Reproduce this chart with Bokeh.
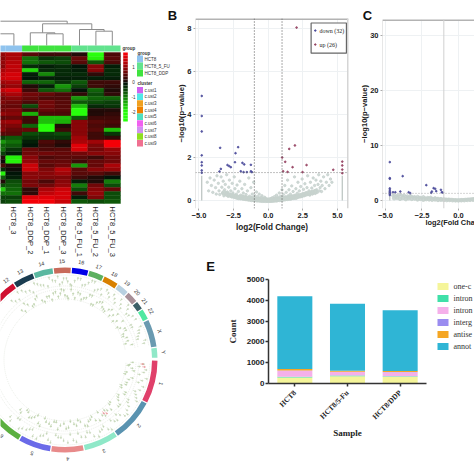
import numpy as np
from bokeh.plotting import figure
from bokeh.models import Range1d, Span, FactorRange, FixedTicker
from bokeh.core.properties import value
from bokeh.embed import file_html
from bokeh.resources import INLINE

SANS = "Liberation Sans"
SERIF = "Liberation Serif"

# ---------- heatmap ----------
heat_rows = [
 [1.0,1.2,.5,.3,.3,.1,-2,.4],[.9,1.2,-.9,-.4,-.5,.6,-1.9,.5],[1,1.3,-.9,-.7,-.6,.5,-.7,.4],
 [.9,1.4,-.3,-.2,-.3,-.1,.9,-.2],[1.2,1.4,-1.7,-.3,-.3,-.2,.9,-.3],[1.4,1.6,-.2,-1.1,-.3,-.3,.2,-.3],
 [1.5,1.6,-.1,-.2,-.2,-.2,-.2,-.2],[1.1,1.2,-.8,-.8,-.4,-.7,.3,.3],[.8,1,.1,-.2,-1.2,-.5,.3,.2],
 [1.4,1.6,.3,-.7,-.9,-.1,-.8,.1],[1,1.2,.7,.6,.4,.2,-.6,.2],[.7,.9,.6,.4,.4,-1.2,-.8,-.8],
 [.8,.7,.4,.7,.5,-.7,-.6,-.5],[.6,.6,-.6,.7,.5,-1.5,-.3,-.4],[.7,.8,.3,.6,.5,-2,.1,.1],
 [1,.9,-1.4,.4,.4,-2,.1,.2],[.5,.6,.3,-1.5,-1.5,-.7,.3,.3],[1,1.1,.3,-1.5,-1.4,.9,.5,.4],
 [.8,.8,-.8,-2,.1,.9,.4,.3],[.9,.6,.6,-2,.3,.9,.5,-1.5],[.5,.5,-.6,-.5,-.6,.9,.3,-.4],
 [-.5,-.7,-.4,-.4,-.4,1.1,.3,.2],[-1.2,-.9,-.2,.4,.2,1.2,1.1,1.9],[-.8,-.7,-.1,.3,.1,1.7,.8,1.9],
 [-.9,-.4,.6,.4,.5,1.6,.7,1.0],[-.5,-.2,.7,.7,.6,.7,.9,.9],[.1,-1.9,.9,.4,.5,.5,.3,.7],
 [0,-1.9,1,.6,.6,.3,.6,.7],[.4,.1,1.5,.5,.7,-1.2,.6,1.2],[-.3,0,1.5,.8,1.3,.5,.9,1.0],
 [-1.9,-.1,.9,.9,1.1,.5,.5,.3],[-.7,-.2,.9,.8,.8,.3,.1,-.1],[.1,-.6,.7,.4,.9,-.2,.1,-1],
 [-.6,-.7,.8,.7,1,-1,.7,-.6],[-1.6,-.8,.2,1.2,1.5,-.6,.9,.6],[-.9,-.9,.2,1.4,1.6,.3,1,-.6],
 [-.5,-.5,1.7,1.7,1.6,-.2,.8,-.6],[-.5,-.6,1.9,1.9,1.5,-.7,-.6,-.7],
]
sample_labels = ["HCT8_3","HCT8_DDP_2","HCT8_DDP_1","HCT8_DDP_3","HCT8_5_FU_1","HCT8_5_FU_2","HCT8_5_FU_3"]
group_colors = ["#8fc3ee","#8fc3ee","#3fe33f","#3fe33f","#3fe33f","#62e38e","#62e38e","#62e38e"]
group_names = ["HCT8","HCT8_5_FU","HCT8_DDP"]
group_swatches = ["#8fc3ee","#62e38e","#3fe33f"]
cluster_names = ["c.ust1","c.ust2","c.ust3","c.ust4","c.ust5","c.ust6","c.ust7","c.ust8","c.ust9"]
cluster_colors = ["#d060f0","#50e8e8","#f0a020","#f08000","#50e0c0","#f060f0","#d090f0","#90e020","#f07090"]
dend_left  = [3.5,2.5,6.5,5.5,3.25,-1.0,-0.5,-1.5]
dend_right = [4.5,4.0,7.5,7.0,6.25,4.75,1.5,0.5]
dend_h     = [11.7,12.7,14.3,16.0,21.7,24.3,11.7,12.7]
dend_hl    = [0,0,0,0,12.7,12.0,0,0]
dend_hr    = [0,11.7,0,14.3,16.0,21.7,0,0]

# ---------- volcano B ----------
b_ticks_x = [-5.0,-2.5,0.0,2.5,5.0]
b_ticks_y = [0,2,4,6,8]
b_down_x = [-4.8,-4.8,-4.8,-4.8,-4.8,-4.8,-4.8,-4.8,-3.47,-2.17,-2.36,-2.4,-2.94,-2.82,-2.7,-3.42,-3.52,-1.86,-1.73,-1.25,-1.98,-1.78,-1.54,-1.25,-1.18]
b_down_y = [4.86,3.93,3.21,2.1,1.78,1.63,1.4,1.29,2.45,2.48,2.2,1.78,1.65,1.6,1.55,1.47,1.35,1.75,1.68,1.66,1.36,1.32,1.32,1.36,1.32]
b_up_x = [2.05,1.93,1.52,1.01,1.23,1.76,2.77,1.08,1.4,2.48,4.7,5.35,5.35,5.35,5.35]
b_up_y = [8.04,2.56,2.4,2.0,1.8,1.55,1.65,1.36,1.33,1.32,1.43,1.81,1.63,1.44,1.27]
b_cloud_x = [-4.4,-4.3,-4.2,-4.1,-4.0,-3.9,-3.8,-3.75,-3.7,-3.6,-3.55,-3.5,-3.4,-3.35,-3.3,-3.25,-3.2,-3.15,-3.1,-3.05,-3.0,-2.95,-2.9,-2.85,-2.8,-2.75,-2.7,-2.65,-2.6,-2.55,-2.5,-2.45,-2.4,-2.35,-2.3,-2.25,-2.2,-2.15,-2.1,-2.05,-2.0,-1.95,-1.9,-1.85,-1.8,-1.75,-1.7,-1.65,-1.6,-1.55,-1.5,-1.45,-1.4,-1.35,-1.3,-1.25,-1.2,-1.15,-1.1,-1.05,-1.0,-.95,-.9,-.85,-.8,-.75,-.7,-.65,-.6,-.55,-.5,-.45,-.4,-.35,-.3,-.25,-.2,-.15,-.1,-.05,0,.05,.1,.15,.2,.25,.3,.35,.4,.45,.5,.55,.6,.65,.7,.75,.8,.85,.9,.95,1.0,1.05,1.1,1.15,1.2,1.25,1.3,1.35,1.4,1.45,1.5,1.55,1.6,1.65,1.7,1.75,1.8,1.85,1.9,1.95,2.0,2.05,2.1,2.15,2.2,2.25,2.3,2.35,2.4,2.45,2.5,2.55,2.6,2.65,2.7,2.75,2.8,2.85,2.9,2.95,3.0,3.05,3.1,3.15,3.2,3.25,3.3,3.35,3.4,3.45,3.5,3.55,3.6,3.65,3.7,3.75,3.8,3.85,3.9,4.0,4.1,4.2,4.3,4.4,4.5,4.6]
b_cloud_y = [.85,.45,1.05,.7,.38,.95,.6,.3,1.15,.8,.45,.28,1.1,.62,.35,.9,.22,.5,.75,.3,1.2,.4,.2,.62,.95,.28,.45,.18,.8,.35,.22,1.1,.55,.15,.3,.72,.18,.42,.12,.9,.25,.1,.55,.2,.35,.1,.75,.15,.28,.08,.45,.12,1.05,.2,.07,.6,.15,.3,.06,.85,.12,.22,.05,.4,.1,.18,.04,.3,.08,.14,.03,.22,.06,.1,.02,.15,.04,.07,.01,.03,0,.02,.05,.01,.09,.03,.13,.02,.07,.18,.04,.11,.25,.05,.16,.08,.35,.1,.2,.06,.5,.13,.28,.08,.7,.17,.38,.1,.95,.22,.5,.12,.3,.15,.68,.2,.42,.14,1.1,.25,.55,.17,.34,.85,.2,.45,.24,.65,.19,1.0,.3,.52,.23,.78,.35,.27,.6,1.15,.3,.45,.25,.85,.38,.58,.3,1.05,.42,.7,.33,.95,.5,.38,.75,1.2,.45,.6,.9,.42,.7,1.1,.55,.85,1.2,.7,1.0,.85]
b_band_x = [-3.2,-3.0,-2.8,-2.6,-2.45,-2.3,-2.15,-2.0,-1.9,-1.8,-1.7,-1.6,-1.5,-1.4,-1.3,-1.2,-1.1,-1.0,-.9,-.8,-.7,-.6,-.5,-.4,-.3,-.2,-.1,0,.1,.2,.3,.4,.5,.6,.7,.8,.9,1.0,1.1,1.2,1.3,1.4,1.5,1.6,1.7,1.8,1.9,2.0,2.15,2.3,2.45,2.6,2.8,3.0,3.2,3.4]
b_band_y = [.36,.3,.26,.22,.2,.17,.14,.13,.16,.11,.13,.09,.1,.07,.09,.05,.07,.04,.06,.03,.05,.02,.03,.01,.03,.01,.02,.01,.02,.01,.03,.02,.04,.03,.05,.05,.07,.06,.09,.08,.11,.1,.13,.11,.16,.14,.18,.15,.2,.22,.25,.28,.32,.34,.38,.42]

# ---------- volcano C ----------
c_ticks_x = [-5.0,-2.5,0.0]
c_ticks_y = [0,10,20,30]
c_down_x = [-4.7,-4.7,-4.7,-3.82,-2.2,-4.7,-4.7,-4.7,-4.7,-4.7,-4.7,-4.48,-4.32,-3.98,-3.41,-3.3,-1.82,-1.7,-1.59,-1.52,-1.86,-1.2,-1.14,-1.07]
c_down_y = [7.0,4.08,3.96,4.44,2.8,2.2,1.9,1.6,1.4,1.2,1.0,1.5,1.5,1.64,1.5,1.34,1.64,2.25,2.13,1.7,1.4,1.95,1.5,1.45]
c_cloud_x = [-4.5,-4.4,-4.3,-4.2,-4.1,-4.0,-3.9,-3.8,-3.7,-3.6,-3.5,-3.4,-3.3,-3.2,-3.1,-3.0,-2.9,-2.8,-2.7,-2.6,-2.5,-2.4,-2.3,-2.2,-2.1,-2.0,-1.9,-1.8,-1.7,-1.6,-1.5,-1.4,-1.3,-1.2,-1.1,-1.0,-.9,-.8,-.7,-.6,-.5,-.4,-.3,-.2,-.1,0,.1,.2,.3,.4,.5,.6,.7,.8,.9,1.0,1.1]
c_cloud_y = [.9,1.0,.7,.95,.8,1.1,.9,.85,.95,.7,.85,.6,.9,.75,.6,.7,.5,.75,.6,.55,.45,.7,.5,.4,.55,.45,.6,.4,.35,.5,.35,.4,.3,.35,.25,.3,.25,.2,.25,.15,.2,.15,.12,.1,.08,.05,.1,.12,.15,.12,.2,.18,.25,.22,.3,.3,.35]
c_band_x = [-4.4,-4.2,-4.0,-3.8,-3.6,-3.4,-3.2,-3.0,-2.8,-2.6,-2.4,-2.2,-2.0,-1.8,-1.6,-1.4,-1.2,-1.0,-.8,-.6,-.4,-.2,0,.2,.4,.6,.8,1.0]
c_band_y = [.4,.5,.3,.45,.25,.4,.3,.35,.2,.3,.15,.25,.2,.15,.2,.1,.15,.1,.08,.1,.05,.03,.02,.05,.06,.1,.12,.15]

# ---------- stacked bars E ----------
samples = ["HCT8","HCT8/5-Fu","HCT8/DDP"]
bar_ticks = [0,1000,2000,3000,4000,5000]
one_class = [290,350,320]
intronic_a = [30,30,30]
intronic_b = [290,170,190]
intergenic = [20,10,10]
antisense = [70,50,50]
annotated = [3490,3220,2920]
stack_labels = ["one-c","intron","intron","interg","antise","annot"]
stack_colors = ["#f5f59a","#3fe0a8","#f5b0ea","#9a8cf0","#f5a623","#2fb5d5"]

# ---------- circos ----------
chrom_names = ["1","2","3","4","5","6","7","8","9","10","11","12","13","14","15","16","17","18","19","20","21","22","X","Y"]
chrom_start = [0,27.7,55.5,77.9,99,120,139.6,157.8,174.4,190.2,205.4,220.9,236.1,249.8,262.6,274,285,295,305,313,320.8,326.6,334,352]
chrom_end = [27.7,55.5,77.9,99,120,139.6,157.8,174.4,190.2,205.4,220.9,236.1,249.8,262.6,274,285,295,305,313,320.8,326.6,334,352,359]
chrom_colors = ["#e0406a","#5a93b0","#8fe8c8","#e88a8a","#6a6ae8","#5cb040","#c080c0","#e0a040","#70a0d0","#a0c060","#c06060","#d01030","#1a3c50","#5ab8a0","#c86a5a","#0000e8","#5cb060","#d88000","#b8d0e0","#a89098","#3c6068","#50e8a0","#6a9ab0","#90e8c8"]
track1_angle = [3,7,11,15,19,24,28,32,36,41,45,49,53,58,62,66,71,75,80,84,88,93,97,102,106,110,115,119,124,129,134,228,233,238,243,248,252,257,261,265,268,271,274,277,281,285,289,293,297,301,305,309,313,317,321,325,330,334,338,342,346,5,9,13,17,22,26,30,34,39,43,47,51,56,60,64,69,73,78,82,86,91,95,100,104,108,113,117,122,127,132,230,235,240,245,250,254,259,263,266,269,272,275,279,283,287,291,295,299,303,307,311,315,319,323,327,332,336,340,344,348]
track1_r = [79,82,76,80,83,77,81,75,79,83,78,80,76,82,79,84,77,80,75,81,83,78,76,82,79,84,77,80,83,75,79,80,76,82,78,83,79,76,81,84,78,82,76,80,83,78,84,76,80,82,77,79,83,76,81,78,82,75,80,77,83,75,80,84,77,81,79,83,76,80,82,75,79,84,77,80,82,76,79,83,75,81,78,84,76,80,83,78,81,75,82,77,83,79,75,81,78,84,80,76,82,79,75,83,77,81,84,78,75,80,82,76,79,84,77,81,75,83,79,76,81]
track2_angle = [2,5,9,13,17,22,26,30,35,39,43,47,52,56,60,65,69,73,78,82,87,91,96,100,104,109,113,118,122,127,132,229,234,239,244,249,254,258,262,266,269,272,275,279,283,287,291,295,299,303,307,311,315,319,323,328,332,336,340,345,4,7,11,15,20,24,28,33,37,41,45,50,54,58,63,67,71,76,80,85,89,94,98,102,107,111,116,120,125,130,231,236,241,246,251,256,260,264,267,270,273,277,281,285,289,293,297,301,305,309,313,317,321,326,330,334,338,343,347]
track2_r = [68,64,70,62,67,66,63,69,65,71,62,68,64,67,70,63,66,69,62,65,68,64,70,63,66,62,69,65,68,63,67,66,70,63,68,64,66,62,69,67,70,64,71,63,68,65,70,62,66,69,64,67,63,70,65,62,68,64,66,63,65,68,63,70,66,62,69,64,67,71,63,66,69,62,68,65,70,64,67,62,69,66,63,68,65,71,62,67,64,69,63,67,64,70,62,66,68,64,71,65,62,67,69,63,66,70,62,68,65,63,69,66,62,70,64,68,63,66,69]
red_angle = [3,5,52,54]
red_r = [78,80,68,66]

def page(p, left, top):
    p.styles = {"position": "absolute", "left": f"{left}px", "top": f"{top}px"}
    p.border_fill_color = None
    p.background_fill_color = None
    p.outline_line_color = None
    return p

# ---------- panel A: heatmap ----------
col_w, row_h = 16.4, (203 - 52) / len(heat_rows)
HW, HH = 175, 258
x0 = 8 - 120 / col_w
heat = figure(width=HW, height=HH, x_range=Range1d(x0, x0 + HW / col_w),
              y_range=Range1d((HH - 52) / row_h, -52 / row_h),
              toolbar_location=None, output_backend="svg", min_border=0)
heat.axis.visible = False
heat.grid.visible = False
page(heat, 0, 0)
fy = lambda px: (px - 52) / row_h
fx = lambda px: x0 + px / col_w

def heat_color(v):
    v = max(-2.0, min(2.0, v)) / 2
    if v >= 0:
        return "#%02x%02x%02x" % (int(15 + 240 * v ** 0.85), int(12 * (1 - v)), 8)
    return "#%02x%02x%02x" % (int(40 * -v), int(12 + 243 * (-v) ** 1.1), int(8 + 4 * -v))

m = np.array(heat_rows)
rr, cc = np.mgrid[0:m.shape[0], 0:m.shape[1]]
cols = [heat_color(v) for v in m.ravel()]
heat.rect(cc.ravel() + .5, rr.ravel() + .5, width=1, height=1, fill_color=cols, line_color=cols, line_width=.4)
heat.quad(left=list(range(8)), right=list(range(1, 9)), top=fy(45), bottom=fy(51),
          fill_color=group_colors, line_color=None)
for xl, xr, h, hl, hr in zip(dend_left, dend_right, dend_h, dend_hl, dend_hr):
    heat.multi_line([[xl, xl, xr, xr]], [[fy(45 - hl), fy(45 - h), fy(45 - h), fy(45 - hr)]],
                    line_color="#8c8c8c", line_width=1)
heat.text(x=[i + 1.5 for i in range(7)], y=fy(206), text=sample_labels, angle=-np.pi / 2,
          text_font=value(SANS), text_font_size="7.5px", text_align="left", text_baseline="middle",
          text_color="#222222")
cb_vals = np.arange(1.93, -2.6, -0.1)
heat.quad(left=fx(122.7), right=fx(127.3), top=[fy(81 - v * 15) for v in cb_vals],
          bottom=[fy(81 - (v - .1) * 15) for v in cb_vals],
          fill_color=[heat_color(v) for v in cb_vals], line_color=None)
heat.text(x=fx(133), y=[fy(66), fy(81), fy(96), fy(111)], text=["1", "0", "-1", "-2"],
          text_font=value(SANS), text_font_size="4.5px", text_align="center", text_baseline="middle", text_color="#333333")
heat.text(x=[fx(122), fx(137), fx(137)], y=[fy(48), fy(53), fy(83)], text=["group", "group", "cluster"],
          text_font=value(SANS), text_font_size="4.5px", text_font_style="bold", text_align="left",
          text_baseline="middle", text_color="#333333")
gy = [58.5, 65.5, 72.5]
heat.quad(left=fx(136.5), right=fx(142.5), top=[fy(v - 3.4) for v in gy], bottom=[fy(v + 3.4) for v in gy],
          fill_color=group_swatches, line_color=None)
heat.text(x=fx(144), y=[fy(v) for v in gy], text=group_names, text_font=value(SANS), text_font_size="4.5px",
          text_align="left", text_baseline="middle", text_color="#333333")
cy = [89.7, 96.3, 103, 109.7, 116.3, 123, 129.7, 136, 142.7]
heat.quad(left=fx(136.5), right=fx(142.5), top=[fy(v - 3.3) for v in cy], bottom=[fy(v + 3.3) for v in cy],
          fill_color=cluster_colors, line_color=None)
heat.text(x=fx(144), y=[fy(v) for v in cy], text=cluster_names, text_font=value(SANS), text_font_size="4.5px",
          text_align="left", text_baseline="middle", text_color="#333333")

# ---------- volcano helper ----------
def volcano(left, top, w, h, bl, br, bt, bb, xr, yr, xt, yt):
    p = figure(width=w, height=h, x_range=Range1d(*xr), y_range=Range1d(*yr),
               toolbar_location=None, output_backend="svg",
               min_border_left=bl, min_border_right=br, min_border_top=bt, min_border_bottom=bb)
    page(p, left, top)
    p.xaxis.ticker = FixedTicker(ticks=xt)
    p.yaxis.ticker = FixedTicker(ticks=yt)
    p.xaxis.major_label_overrides = {t: ("\u2212%.1f" % -t if t < 0 else "%.1f" % t) for t in xt}
    p.yaxis.major_label_overrides = {t: str(t) for t in yt}
    for ax in (p.xaxis[0], p.yaxis[0]):
        ax.axis_line_color = None
        ax.major_tick_line_color = "#aaaaaa"
        ax.major_tick_in = 0
        ax.major_tick_out = 2
        ax.minor_tick_line_color = None
        ax.major_label_text_font = SANS
        ax.major_label_text_font_style = "bold"
        ax.major_label_text_font_size = "7.5px"
        ax.major_label_text_color = "#222222"
        ax.major_label_standoff = 2
        ax.axis_label_text_font = SANS
        ax.axis_label_text_font_style = "bold"
        ax.axis_label_text_color = "#222222"
    p.yaxis[0].axis_label = "\u2212log10(p\u2212value)"
    p.yaxis[0].axis_label_text_font_size = "7.6px"
    p.yaxis[0].axis_label_standoff = -2
    p.grid.grid_line_color = "#eef1f3"
    p.grid.grid_line_width = 1
    p.add_layout(Span(location=yr[1], dimension="width", line_color="#b3b3b3", line_width=3))
    p.add_layout(Span(location=xr[0], dimension="height", line_color="#cfcfcf", line_width=1))
    return p

GRAY = "#c6d1cd"
DOWN = "#4a4a9a"
UP = "#94405f"

# ---------- panel B ----------
bp = volcano(160, 0, 200, 240, 35, 12, 18, 32, (-5.25, 5.8), (-0.37, 8.46), b_ticks_x, b_ticks_y)
bp.xaxis[0].axis_label = "log2(Fold Change)"
bp.xaxis[0].axis_label_text_font_size = "8.2px"
bp.xaxis[0].axis_label_standoff = 2
bp.add_layout(Span(location=5.8, dimension="height", line_color="#d5d5d5", line_width=3))
bp.segment(x0=[-4.8, 5.35], y0=0, x1=[-4.8, 5.35], y1=1.15, line_color="#b9c2bf", line_width=1.2)
bp.scatter(b_cloud_x, b_cloud_y, size=2.4, color=GRAY, alpha=.8)
bp.scatter(b_band_x, b_band_y, size=4.5, color=GRAY, alpha=.9)
for t in (-1, 1):
    bp.add_layout(Span(location=t, dimension="height", line_color="#555555", line_width=1, line_dash="1 2"))
bp.add_layout(Span(location=1.3, dimension="width", line_color="#666666", line_width=.8, line_dash="1 2"))
bp.scatter(b_down_x, b_down_y, size=1.7, color=DOWN, alpha=.85)
bp.scatter(b_up_x, b_up_y, size=1.7, color=UP, alpha=.85)
bp.quad(left=[3.1], right=[5.65], top=[8.25], bottom=[6.85], fill_color="white", line_color="#666666", line_width=1.2)
bp.scatter([3.4], [7.9], size=1.5, color=DOWN)
bp.scatter([3.4], [7.25], size=1.5, color=UP)
bp.text([3.7, 3.7], [7.9, 7.25], text=["down (32)", "up (26)"], text_font=value(SERIF), text_font_size="6px",
        text_baseline="middle", text_color="#222222")

# ---------- panel C ----------
cp = volcano(350, 0, 124, 240, 32, 0, 19, 32, (-5.2, 1.1), (-1.46, 33.0), c_ticks_x, c_ticks_y)
cp.segment(x0=[-4.7], y0=0, x1=[-4.7], y1=1, line_color="#b9c2bf", line_width=1.2)
cp.scatter(c_cloud_x, c_cloud_y, size=2.4, color=GRAY, alpha=.8)
cp.scatter(c_band_x, c_band_y, size=3.6, color=GRAY, alpha=.9)
cp.add_layout(Span(location=-1, dimension="height", line_color="#d0d0d0", line_width=1))
cp.add_layout(Span(location=1.3, dimension="width", line_color="#999999", line_width=.8, line_dash="1 2"))
cp.scatter(c_down_x, c_down_y, size=1.7, color=DOWN, alpha=.85)

# ---------- panel D: circos ----------
CW, CH = 175, 229
cx = 64.5
cyc = 359.5 - 245
circ = figure(width=CW, height=CH, x_range=Range1d(-cx, CW - cx), y_range=Range1d(cyc - CH, cyc),
              toolbar_location=None, output_backend="svg", min_border=0)
circ.axis.visible = False
circ.grid.visible = False
page(circ, 0, 245)
st = np.radians(chrom_start)
en = np.radians(chrom_end)
circ.annular_wedge(0, 0, inner_radius=87, outer_radius=92.5, start_angle=-(en - .007), end_angle=-(st + .007),
                   fill_color=chrom_colors, line_color=None, direction="anticlock")
for rad in (85, 74, 71, 61):
    circ.arc(0, 0, radius=rad, start_angle=-np.radians(350), end_angle=-np.radians(2), line_color="#dde3d8",
             line_width=.6, line_dash="1 1", direction="anticlock")
for ang, rad, col in ((track1_angle, track1_r, "#bcd0ac"), (track2_angle, track2_r, "#b3cba0"), (red_angle, red_r, "#e6868a")):
    a = np.radians(ang)
    r = np.array(rad, dtype=float)
    circ.segment(r * np.cos(a), -r * np.sin(a), (r - 2.5) * np.cos(a), -(r - 2.5) * np.sin(a), line_color=col, line_width=.8, line_alpha=.7)
    circ.scatter(r * np.cos(a), -r * np.sin(a), size=1.3, color=col, alpha=.5)
keep = [i for i, n in enumerate(chrom_names) if n not in ("7", "8", "9", "10", "11")]
mid_deg = [(chrom_start[i] + chrom_end[i]) / 2 for i in keep]
mid_deg[keep.index(11)] = 233.5  # the label of 12 sits where the window cuts its slice
mid = np.radians(mid_deg)
circ.text(99 * np.cos(mid), -99 * np.sin(mid), text=[chrom_names[i] for i in keep], angle=-mid - np.pi / 2,
          text_font=value(SANS), text_font_size="5.5px", text_align="center", text_baseline="middle", text_color="#333333")

# ---------- panel E ----------
ep = figure(width=274, height=224, x_range=FactorRange(*samples), y_range=Range1d(0, 5000),
            toolbar_location=None, output_backend="svg",
            min_border_left=68, min_border_right=48, min_border_top=29, min_border_bottom=91)
page(ep, 200, 250)
ep.grid.visible = False
data = dict(samples=samples, one_class=one_class, intronic_a=intronic_a, intronic_b=intronic_b,
            intergenic=intergenic, antisense=antisense, annotated=annotated)
keys = ["one_class", "intronic_a", "intronic_b", "intergenic", "antisense", "annotated"]
ep.vbar_stack(keys, x="samples", width=.665, source=data, color=stack_colors, line_color=None)
ep.yaxis.ticker = FixedTicker(ticks=bar_ticks)
for ax in (ep.xaxis[0], ep.yaxis[0]):
    ax.axis_line_color = "#333333"
    ax.axis_line_width = 1.5
    ax.major_tick_line_color = "#333333"
    ax.major_tick_line_width = 1.5
    ax.major_tick_in = 0
    ax.major_tick_out = 3
    ax.minor_tick_line_color = None
    ax.axis_label_text_font = SERIF
    ax.axis_label_text_font_style = "bold"
    ax.axis_label_text_font_size = "9px"
    ax.axis_label_text_color = "#222222"
ep.yaxis[0].major_label_text_font = SANS
ep.yaxis[0].major_label_text_font_style = "bold"
ep.yaxis[0].major_label_text_font_size = "8px"
ep.yaxis[0].major_label_text_color = "#222222"
ep.yaxis[0].major_label_standoff = 1
ep.yaxis[0].axis_label = "Count"
ep.yaxis[0].axis_label_standoff = 6
ep.xaxis[0].axis_label = "Sample"
ep.xaxis[0].axis_label_standoff = 1
ep.xaxis[0].major_label_text_font = SERIF
ep.xaxis[0].major_label_text_font_style = "bold"
ep.xaxis[0].major_label_text_font_size = "7.5px"
ep.xaxis[0].major_label_text_color = "#222222"
ep.xaxis[0].major_label_orientation = np.pi / 4

# ---------- overlay: panel letters, cut-off texts and the legend of E ----------
ov = figure(width=474, height=474, x_range=Range1d(0, 474), y_range=Range1d(474, 0),
            toolbar_location=None, output_backend="svg", min_border=0)
ov.axis.visible = False
ov.grid.visible = False
page(ov, 0, 0)
ov.text(x=[172, 367, 210], y=[15, 15, 266], text=["B", "C", "E"], text_font=value(SANS), text_font_style="bold",
        text_font_size="13px", text_color="#111111", text_align="center", text_baseline="middle")
ov.text(x=[425], y=[222], text=["log2(Fold Cha"], text_font=value(SANS), text_font_style="bold",
        text_font_size="7.4px", text_color="#222222", text_baseline="middle")
ly = [286, 298, 310, 322, 334, 346]
ov.quad(left=437, right=448, top=[v - 3.5 for v in ly], bottom=[v + 3.5 for v in ly], fill_color=stack_colors, line_color=None)
ov.text(x=453, y=ly, text=stack_labels, text_font=value(SERIF), text_font_size="8px", text_color="#333333",
        text_baseline="middle")

open("out.html", "w").write(file_html([heat, bp, cp, circ, ep, ov], INLINE))
